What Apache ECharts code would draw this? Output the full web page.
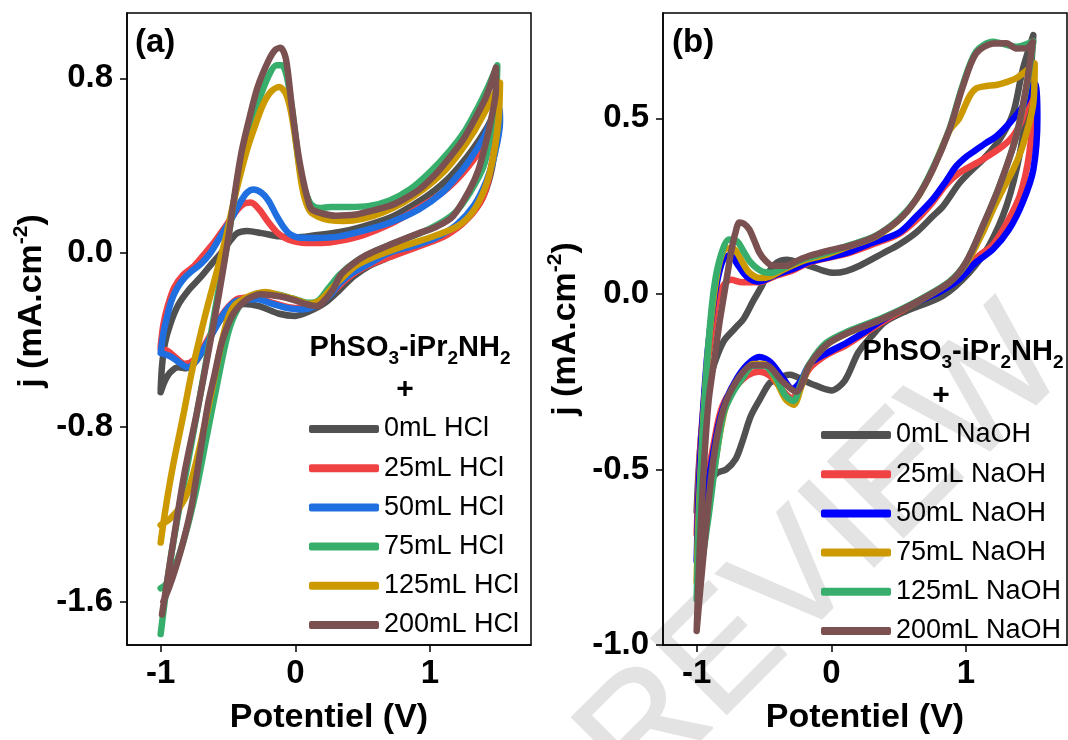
<!DOCTYPE html>
<html>
<head>
<meta charset="utf-8">
<script src="https://cdn.jsdelivr.net/npm/echarts@6/dist/echarts.min.js"></script>
<style>
html,body{margin:0;padding:0;background:#fff;}
#chart{width:1068px;height:740px;}
</style>
</head>
<body>
<div id="chart"></div>
<script>
// ---------- tick labels ----------
var xTicks = [-1, 0, 1];
var yTicksA = [-1.6, -0.8, 0.0, 0.8];
var yTicksB = [-1.0, -0.5, 0.0, 0.5];

// ---------- panel (a) categories ----------
var namesA = ['0mL HCl', '25mL HCl', '50mL HCl', '75mL HCl', '125mL HCl', '200mL HCl'];
var colorsA = ['#505050', '#f04242', '#1f6fe0', '#38ae6c', '#cc9a00', '#7b5050'];

// 0mL HCl
var a0Fwd = [[-1.0,-0.63],[-0.99,-0.52],[-0.97,-0.42],[-0.93,-0.33],[-0.87,-0.24],[-0.79,-0.17],[-0.7,-0.11],[-0.62,-0.05],[-0.55,0.0],[-0.49,0.05],[-0.43,0.09],[-0.36,0.1],[-0.25,0.09],[-0.12,0.075],[0.0,0.07],[0.15,0.08],[0.33,0.095],[0.5,0.12],[0.7,0.16],[0.85,0.21],[1.0,0.27],[1.15,0.35],[1.3,0.46],[1.42,0.57],[1.5,0.67]];
var a0Rev = [[1.49,0.52],[1.45,0.36],[1.38,0.24],[1.25,0.14],[1.1,0.08],[0.9,0.03],[0.7,-0.02],[0.55,-0.06],[0.43,-0.11],[0.33,-0.17],[0.22,-0.23],[0.1,-0.27],[0.0,-0.29],[-0.12,-0.28],[-0.27,-0.245],[-0.38,-0.235],[-0.48,-0.255],[-0.57,-0.32],[-0.66,-0.42],[-0.74,-0.5],[-0.81,-0.53],[-0.87,-0.525],[-0.93,-0.55],[-0.97,-0.59],[-1.0,-0.64]];
// 25mL HCl
var a1Fwd = [[-1.0,-0.43],[-0.98,-0.33],[-0.95,-0.25],[-0.9,-0.16],[-0.83,-0.1],[-0.75,-0.06],[-0.68,-0.01],[-0.6,0.05],[-0.52,0.12],[-0.44,0.19],[-0.38,0.225],[-0.33,0.23],[-0.27,0.2],[-0.2,0.14],[-0.13,0.09],[-0.05,0.06],[0.08,0.045],[0.2,0.045],[0.33,0.055],[0.5,0.08],[0.7,0.13],[0.9,0.2],[1.1,0.28],[1.25,0.37],[1.38,0.48],[1.48,0.62]];
var a1Rev = [[1.49,0.57],[1.45,0.38],[1.39,0.25],[1.27,0.15],[1.12,0.08],[0.92,0.03],[0.7,-0.02],[0.5,-0.07],[0.38,-0.12],[0.26,-0.19],[0.15,-0.24],[0.05,-0.255],[-0.05,-0.25],[-0.17,-0.23],[-0.3,-0.205],[-0.42,-0.21],[-0.5,-0.25],[-0.58,-0.32],[-0.67,-0.42],[-0.75,-0.49],[-0.82,-0.51],[-0.89,-0.48],[-0.95,-0.45],[-1.0,-0.44]];
// 50mL HCl
var a2Fwd = [[-1.0,-0.46],[-0.98,-0.37],[-0.955,-0.3],[-0.92,-0.22],[-0.88,-0.165],[-0.83,-0.12],[-0.78,-0.09],[-0.7,-0.05],[-0.63,0.0],[-0.57,0.06],[-0.52,0.11],[-0.47,0.16],[-0.42,0.22],[-0.36,0.275],[-0.31,0.29],[-0.25,0.275],[-0.2,0.24],[-0.14,0.17],[-0.09,0.12],[-0.04,0.085],[0.02,0.07],[0.15,0.068],[0.33,0.075],[0.5,0.1],[0.71,0.14],[0.92,0.2],[1.09,0.275],[1.2,0.35],[1.3,0.43],[1.4,0.53],[1.51,0.67]];
var a2Rev = [[1.52,0.6],[1.48,0.45],[1.42,0.33],[1.33,0.22],[1.2,0.13],[1.05,0.07],[0.9,0.035],[0.7,0.0],[0.55,-0.05],[0.43,-0.09],[0.33,-0.14],[0.25,-0.2],[0.15,-0.245],[0.05,-0.26],[-0.05,-0.255],[-0.17,-0.235],[-0.28,-0.213],[-0.38,-0.215],[-0.45,-0.225],[-0.52,-0.27],[-0.58,-0.33],[-0.67,-0.43],[-0.75,-0.505],[-0.8,-0.525],[-0.87,-0.5],[-0.93,-0.475],[-1.0,-0.46]];
// 75mL HCl
var a3Fwd = [[-1.0,-1.75],[-0.97,-1.6],[-0.93,-1.42],[-0.87,-1.2],[-0.8,-0.97],[-0.72,-0.7],[-0.64,-0.42],[-0.57,-0.17],[-0.5,0.06],[-0.45,0.26],[-0.4,0.42],[-0.33,0.58],[-0.27,0.7],[-0.2,0.81],[-0.14,0.86],[-0.1,0.86],[-0.06,0.8],[-0.02,0.64],[0.02,0.44],[0.05,0.33],[0.08,0.27],[0.12,0.22],[0.18,0.205],[0.26,0.21],[0.4,0.21],[0.55,0.215],[0.7,0.24],[0.85,0.29],[1.0,0.37],[1.15,0.47],[1.26,0.56],[1.35,0.66],[1.43,0.76],[1.5,0.86]];
var a3Rev = [[1.49,0.73],[1.45,0.55],[1.4,0.4],[1.3,0.28],[1.18,0.18],[1.0,0.11],[0.8,0.06],[0.6,0.01],[0.45,-0.04],[0.33,-0.1],[0.25,-0.16],[0.17,-0.22],[0.1,-0.23],[-0.02,-0.21],[-0.14,-0.19],[-0.25,-0.185],[-0.35,-0.205],[-0.43,-0.26],[-0.5,-0.37],[-0.58,-0.6],[-0.66,-0.85],[-0.74,-1.1],[-0.82,-1.3],[-0.9,-1.45],[-0.96,-1.52],[-1.0,-1.54]];
// 125mL HCl
var a4Fwd = [[-1.0,-1.33],[-0.97,-1.2],[-0.93,-1.05],[-0.89,-0.92],[-0.83,-0.74],[-0.77,-0.55],[-0.71,-0.39],[-0.65,-0.24],[-0.58,-0.08],[-0.52,0.06],[-0.47,0.2],[-0.42,0.33],[-0.36,0.47],[-0.3,0.58],[-0.24,0.68],[-0.18,0.74],[-0.12,0.76],[-0.07,0.73],[-0.03,0.64],[0.01,0.48],[0.04,0.34],[0.07,0.25],[0.11,0.19],[0.17,0.165],[0.25,0.15],[0.36,0.145],[0.5,0.155],[0.65,0.185],[0.8,0.23],[0.95,0.29],[1.1,0.37],[1.22,0.46],[1.33,0.56],[1.42,0.66],[1.52,0.78]];
var a4Rev = [[1.51,0.62],[1.47,0.44],[1.41,0.3],[1.32,0.19],[1.2,0.12],[1.0,0.07],[0.8,0.03],[0.6,-0.015],[0.45,-0.06],[0.34,-0.12],[0.26,-0.17],[0.18,-0.22],[0.1,-0.235],[0.0,-0.215],[-0.12,-0.195],[-0.22,-0.18],[-0.3,-0.19],[-0.38,-0.21],[-0.45,-0.24],[-0.5,-0.3],[-0.55,-0.42],[-0.61,-0.6],[-0.67,-0.78],[-0.74,-0.97],[-0.8,-1.1],[-0.86,-1.17],[-0.93,-1.22],[-1.0,-1.25]];
// 200mL HCl
var a5Fwd = [[-0.99,-1.66],[-0.95,-1.5],[-0.9,-1.3],[-0.82,-1.0],[-0.73,-0.73],[-0.65,-0.47],[-0.57,-0.2],[-0.5,0.06],[-0.45,0.27],[-0.4,0.46],[-0.34,0.62],[-0.28,0.76],[-0.2,0.88],[-0.15,0.93],[-0.11,0.94],[-0.07,0.89],[-0.03,0.69],[0.02,0.46],[0.057,0.335],[0.09,0.25],[0.12,0.2],[0.2,0.18],[0.3,0.17],[0.45,0.175],[0.55,0.19],[0.7,0.215],[0.8,0.244],[0.92,0.29],[1.05,0.366],[1.15,0.44],[1.245,0.518],[1.33,0.61],[1.42,0.72],[1.49,0.85]];
var a5Rev = [[1.49,0.75],[1.45,0.6],[1.42,0.518],[1.36,0.38],[1.295,0.29],[1.17,0.167],[1.05,0.12],[0.92,0.09],[0.676,0.03],[0.53,-0.01],[0.43,-0.05],[0.34,-0.1],[0.28,-0.168],[0.2,-0.23],[0.157,-0.245],[0.08,-0.236],[-0.02,-0.215],[-0.12,-0.2],[-0.25,-0.19],[-0.36,-0.215],[-0.45,-0.27],[-0.5,-0.33],[-0.55,-0.42],[-0.6,-0.56],[-0.65,-0.7],[-0.71,-0.93],[-0.77,-1.16],[-0.83,-1.32],[-0.895,-1.46],[-0.94,-1.54],[-0.98,-1.6]];

// ---------- panel (b) categories ----------
var namesB = ['0mL NaOH', '25mL NaOH', '50mL NaOH', '75mL NaOH', '125mL NaOH', '200mL NaOH'];
var colorsB = ['#505050', '#f04242', '#0000ff', '#cc9a00', '#38ae6c', '#7b5050'];

// 0mL NaOH
var b0Fwd = [[-1.0,-0.62],[-0.985,-0.5],[-0.96,-0.38],[-0.92,-0.27],[-0.87,-0.2],[-0.8,-0.135],[-0.72,-0.1],[-0.65,-0.07],[-0.58,-0.02],[-0.52,0.02],[-0.46,0.065],[-0.4,0.09],[-0.33,0.097],[-0.25,0.09],[-0.163,0.08],[-0.05,0.065],[0.02,0.06],[0.11,0.065],[0.21,0.08],[0.38,0.115],[0.5,0.14],[0.63,0.175],[0.75,0.22],[0.83,0.25],[0.95,0.315],[1.05,0.355],[1.124,0.382],[1.25,0.44],[1.35,0.515],[1.42,0.637],[1.5,0.737]];
var b0Rev = [[1.47,0.59],[1.4,0.4],[1.3,0.25],[1.17,0.137],[1.025,0.061],[0.83,-0.005],[0.55,-0.05],[0.4,-0.08],[0.3,-0.12],[0.2,-0.167],[0.1,-0.247],[0.0,-0.275],[-0.155,-0.255],[-0.31,-0.23],[-0.4,-0.24],[-0.46,-0.255],[-0.53,-0.3],[-0.6,-0.35],[-0.66,-0.42],[-0.71,-0.47],[-0.78,-0.5],[-0.85,-0.51],[-0.93,-0.55],[-1.0,-0.62]];
// 25mL NaOH
var b1Fwd = [[-1.0,-0.685],[-0.99,-0.58],[-0.975,-0.45],[-0.95,-0.32],[-0.92,-0.2],[-0.88,-0.09],[-0.845,-0.01],[-0.8,0.025],[-0.745,0.04],[-0.66,0.033],[-0.54,0.033],[-0.41,0.052],[-0.29,0.066],[-0.16,0.09],[0.1,0.113],[0.3,0.14],[0.5,0.17],[0.63,0.21],[0.75,0.26],[0.85,0.31],[0.95,0.345],[1.12,0.382],[1.27,0.42],[1.35,0.45],[1.42,0.5],[1.5,0.62]];
var b1Rev = [[1.5,0.55],[1.47,0.4],[1.4,0.28],[1.3,0.2],[1.2,0.14],[1.1,0.11],[1.0,0.075],[0.88,0.033],[0.63,-0.024],[0.4,-0.075],[0.26,-0.109],[0.11,-0.146],[-0.04,-0.175],[-0.16,-0.212],[-0.24,-0.27],[-0.29,-0.297],[-0.35,-0.28],[-0.45,-0.235],[-0.54,-0.222],[-0.62,-0.232],[-0.7,-0.26],[-0.78,-0.297],[-0.83,-0.345],[-0.88,-0.44],[-0.93,-0.54],[-0.97,-0.62],[-1.0,-0.685]];
// 50mL NaOH
var b2Fwd = [[-1.0,-0.76],[-0.99,-0.62],[-0.975,-0.48],[-0.95,-0.32],[-0.92,-0.17],[-0.88,-0.04],[-0.84,0.05],[-0.8,0.1],[-0.75,0.11],[-0.69,0.08],[-0.63,0.05],[-0.54,0.035],[-0.41,0.055],[-0.29,0.07],[-0.16,0.092],[0.1,0.115],[0.3,0.145],[0.505,0.175],[0.63,0.22],[0.753,0.269],[0.85,0.32],[0.926,0.363],[1.0,0.39],[1.075,0.41],[1.15,0.43],[1.224,0.448],[1.322,0.486],[1.42,0.533],[1.51,0.6]];
var b2Rev = [[1.53,0.5],[1.5,0.354],[1.42,0.26],[1.32,0.184],[1.2,0.127],[1.075,0.09],[0.95,0.042],[0.8,0.005],[0.63,-0.024],[0.4,-0.07],[0.26,-0.105],[0.11,-0.14],[-0.04,-0.17],[-0.16,-0.2],[-0.23,-0.25],[-0.29,-0.27],[-0.36,-0.24],[-0.45,-0.195],[-0.535,-0.18],[-0.62,-0.2],[-0.7,-0.24],[-0.78,-0.3],[-0.83,-0.36],[-0.88,-0.46],[-0.93,-0.58],[-0.97,-0.68],[-1.0,-0.76]];
// 75mL NaOH
var b3Fwd = [[-1.0,-0.82],[-0.99,-0.67],[-0.97,-0.5],[-0.945,-0.32],[-0.91,-0.14],[-0.87,0.0],[-0.83,0.09],[-0.78,0.13],[-0.72,0.127],[-0.66,0.09],[-0.61,0.061],[-0.53,0.045],[-0.45,0.05],[-0.35,0.07],[-0.2,0.095],[-0.05,0.11],[0.13,0.135],[0.33,0.163],[0.5,0.21],[0.63,0.268],[0.75,0.352],[0.877,0.465],[0.95,0.5],[1.025,0.562],[1.075,0.585],[1.15,0.592],[1.224,0.595],[1.3,0.603],[1.372,0.614],[1.47,0.642],[1.51,0.656]];
var b3Rev = [[1.5,0.543],[1.42,0.42],[1.35,0.354],[1.273,0.297],[1.2,0.24],[1.124,0.175],[1.0,0.085],[0.877,0.033],[0.63,-0.024],[0.38,-0.071],[0.134,-0.109],[0.0,-0.135],[-0.1,-0.17],[-0.163,-0.203],[-0.22,-0.26],[-0.28,-0.316],[-0.34,-0.3],[-0.42,-0.24],[-0.5,-0.2],[-0.58,-0.2],[-0.66,-0.235],[-0.72,-0.27],[-0.79,-0.33],[-0.85,-0.45],[-0.9,-0.58],[-0.95,-0.7],[-1.0,-0.82]];
// 125mL NaOH
var b4Fwd = [[-1.0,-0.87],[-0.99,-0.72],[-0.97,-0.52],[-0.945,-0.33],[-0.91,-0.13],[-0.87,0.02],[-0.82,0.11],[-0.76,0.155],[-0.7,0.15],[-0.65,0.12],[-0.6,0.09],[-0.52,0.065],[-0.44,0.06],[-0.35,0.075],[-0.2,0.1],[-0.05,0.115],[0.13,0.138],[0.33,0.166],[0.5,0.213],[0.63,0.27],[0.75,0.355],[0.877,0.47],[0.976,0.595],[1.075,0.69],[1.2,0.718],[1.372,0.704],[1.5,0.72]];
var b4Rev = [[1.45,0.59],[1.372,0.448],[1.248,0.307],[1.124,0.193],[1.0,0.09],[0.877,0.035],[0.63,-0.022],[0.38,-0.068],[0.134,-0.105],[-0.04,-0.14],[-0.163,-0.2],[-0.23,-0.26],[-0.28,-0.305],[-0.34,-0.29],[-0.42,-0.235],[-0.5,-0.205],[-0.58,-0.205],[-0.66,-0.24],[-0.73,-0.28],[-0.8,-0.34],[-0.86,-0.48],[-0.91,-0.63],[-0.96,-0.76],[-1.0,-0.87]];
// 200mL NaOH
var b5Fwd = [[-1.0,-0.96],[-0.985,-0.8],[-0.965,-0.62],[-0.94,-0.45],[-0.91,-0.3],[-0.87,-0.19],[-0.83,-0.08],[-0.8,-0.01],[-0.77,0.06],[-0.745,0.118],[-0.715,0.17],[-0.683,0.203],[-0.65,0.2],[-0.61,0.184],[-0.57,0.15],[-0.535,0.118],[-0.49,0.095],[-0.436,0.08],[-0.337,0.08],[-0.25,0.095],[-0.163,0.108],[0.0,0.125],[0.134,0.137],[0.21,0.146],[0.332,0.165],[0.505,0.212],[0.629,0.269],[0.753,0.354],[0.877,0.467],[0.976,0.59],[1.075,0.685],[1.2,0.713],[1.3,0.714],[1.372,0.699],[1.45,0.7],[1.496,0.718]];
var b5Rev = [[1.447,0.59],[1.372,0.448],[1.248,0.307],[1.124,0.193],[1.0,0.09],[0.877,0.033],[0.629,-0.024],[0.381,-0.071],[0.134,-0.109],[-0.04,-0.146],[-0.163,-0.203],[-0.262,-0.279],[-0.362,-0.25],[-0.485,-0.203],[-0.584,-0.203],[-0.708,-0.25],[-0.807,-0.335],[-0.881,-0.486],[-0.956,-0.77],[-1.0,-0.958]];

var curvesA = [[a0Fwd,a0Rev],[a1Fwd,a1Rev],[a2Fwd,a2Rev],[a3Fwd,a3Rev],[a4Fwd,a4Rev],[a5Fwd,a5Rev]];
var curvesB = [[b0Fwd,b0Rev],[b1Fwd,b1Rev],[b2Fwd,b2Rev],[b3Fwd,b3Rev],[b4Fwd,b4Rev],[b5Fwd,b5Rev]];

var FONT = '"Liberation Sans", Arial, Helvetica, sans-serif';

function makeSeries(names, colors, curves, idx) {
  return names.map(function (n, i) {
    return {
      name: n, type: 'line', xAxisIndex: idx, yAxisIndex: idx,
      data: curves[i][0].concat(curves[i][1]),
      smooth: 0.3, showSymbol: false, symbol: 'none', animation: false,
      lineStyle: { width: 6.5, color: colors[i], cap: 'round', join: 'round' },
      itemStyle: { color: colors[i] },
      z: 3
    };
  });
}

function xAxisCfg(idx) {
  return {
    gridIndex: idx, type: 'value', min: -1.25, max: 1.75,
    axisLine: { show: true, onZero: false, lineStyle: { color: '#000', width: 1.5 } },
    axisTick: { show: true, inside: false, length: 7, customValues: xTicks, lineStyle: { color: '#000', width: 1.5 } },
    axisLabel: { customValues: xTicks, fontSize: 33, fontWeight: 'bold', color: '#000', fontFamily: FONT, margin: 12,
      formatter: function (v) { return String(v); } },
    splitLine: { show: false },
    name: 'Potentiel (V)', nameLocation: 'middle', nameGap: 56,
    nameTextStyle: { fontSize: 34, fontWeight: 'bold', color: '#000', fontFamily: FONT }
  };
}

function yAxisCfg(idx, ticks, min, max, gap, pad) {
  return {
    gridIndex: idx, type: 'value', min: min, max: max,
    axisLine: { show: true, onZero: false, lineStyle: { color: '#000', width: 1.5 } },
    axisTick: { show: true, inside: false, length: 7, customValues: ticks, lineStyle: { color: '#000', width: 1.5 } },
    axisLabel: { customValues: ticks, fontSize: 33, fontWeight: 'bold', color: '#000', fontFamily: FONT, margin: 14,
      formatter: function (v) { return v.toFixed(1); } },
    splitLine: { show: false },
    name: 'j (mA.cm{sup|-2})', nameLocation: 'middle', nameGap: gap,
    nameTextStyle: { fontSize: 34, fontWeight: 'bold', color: '#000', fontFamily: FONT, lineHeight: 42, padding: pad,
      rich: { sup: { fontSize: 21, fontWeight: 'bold', color: '#000', fontFamily: FONT, lineHeight: 21, verticalAlign: 'top' } } }
  };
}

function legendCfg(names, left, top) {
  return {
    data: names, left: left, top: top, orient: 'vertical',
    itemWidth: 70, itemHeight: 8, itemGap: 9.2, icon: 'roundRect', selectedMode: false,
    textStyle: { fontSize: 27, lineHeight: 30, color: '#000', fontFamily: FONT }
  };
}

var richFormula = {
  b: { fontSize: 29, fontWeight: 'bold', fill: '#000', fontFamily: FONT, lineHeight: 40, verticalAlign: 'middle' },
  s: { fontSize: 19, fontWeight: 'bold', fill: '#000', fontFamily: FONT, lineHeight: 18, verticalAlign: 'bottom' }
};
var formulaText = '{b|PhSO}{s|3}{b|-iPr}{s|2}{b|NH}{s|2}';

var option = {
  backgroundColor: '#fff',
  animation: false,
  grid: [
    { left: 127, top: 13, width: 404, height: 634, show: true, borderColor: '#000', borderWidth: 1.5, backgroundColor: 'transparent', containLabel: false },
    { left: 663, top: 13, width: 404, height: 634, show: true, borderColor: '#000', borderWidth: 1.5, backgroundColor: 'transparent', containLabel: false }
  ],
  xAxis: [xAxisCfg(0), xAxisCfg(1)],
  yAxis: [yAxisCfg(0, yTicksA, -1.8, 1.1, 68, [0, 0, 0, 56]), yAxisCfg(1, yTicksB, -1.0, 0.8, 76, [0, 0, 0, 0])],
  legend: [legendCfg(namesA, 304, 409), legendCfg(namesB, 816, 415)],
  series: makeSeries(namesA, colorsA, curvesA, 0).concat(makeSeries(namesB, colorsB, curvesB, 1)),
  graphic: [
    { type: 'text', x: 788, y: 592, rotation: 0.785, z: -10, silent: true,
      style: { text: 'PREVIEW', font: '155px ' + FONT, fill: '#e3e3e3', stroke: '#e3e3e3', lineWidth: 2, align: 'center', verticalAlign: 'middle' } },
    { type: 'text', x: 135, y: 43, z: 10, style: { text: '(a)', font: 'bold 33px ' + FONT, fill: '#000', verticalAlign: 'middle' } },
    { type: 'text', x: 672, y: 43, z: 10, style: { text: '(b)', font: 'bold 33px ' + FONT, fill: '#000', verticalAlign: 'middle' } },
    { type: 'text', x: 410, y: 348, z: 10, style: { text: formulaText, rich: richFormula, align: 'center', verticalAlign: 'middle' } },
    { type: 'text', x: 405, y: 390, z: 10, style: { text: '+', font: 'bold 30px ' + FONT, fill: '#000', align: 'center', verticalAlign: 'middle' } },
    { type: 'text', x: 963, y: 352, z: 10, style: { text: formulaText, rich: richFormula, align: 'center', verticalAlign: 'middle' } },
    { type: 'text', x: 941, y: 396, z: 10, style: { text: '+', font: 'bold 30px ' + FONT, fill: '#000', align: 'center', verticalAlign: 'middle' } }
  ]
};

var chart = echarts.init(document.getElementById('chart'), null, { renderer: 'canvas' });
chart.setOption(option);
</script>
</body>
</html>
